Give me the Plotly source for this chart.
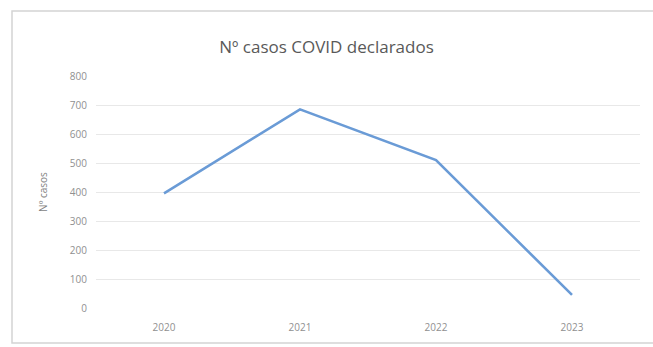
import plotly.graph_objects as go

# Declared COVID cases per year
years = ["2020", "2021", "2022", "2023"]
cases = [395, 685, 510, 45]
y_ticks = [0, 100, 200, 300, 400, 500, 600, 700, 800]

fig = go.Figure(
    go.Scatter(
        x=years,
        y=cases,
        mode="lines",
        line=dict(color="#6a9bd6", width=2.6),
        hoverinfo="x+y",
    )
)

font_family = "Open Sans, Lato, sans-serif"

fig.update_layout(
    width=653,
    height=347,
    margin=dict(l=96, r=13, t=76, b=39),
    paper_bgcolor="white",
    plot_bgcolor="white",
    showlegend=False,
    title=dict(
        text="Nº casos COVID declarados",
        x=0.5,
        xanchor="center",
        y=1 - 47 / 347,
        yanchor="middle",
        font=dict(family=font_family, size=17, color="#595959"),
    ),
    xaxis=dict(
        type="category",
        range=[-0.5, len(years) - 0.5],
        showgrid=False,
        zeroline=False,
        showline=False,
        ticks="",
        ticklabelstandoff=12,
        tickfont=dict(family=font_family, size=10, color="#909090"),
    ),
    yaxis=dict(
        range=[0, 800],
        tickvals=y_ticks,
        showgrid=True,
        gridcolor="#e8e8e8",
        gridwidth=1,
        zeroline=False,
        showline=False,
        ticks="",
        ticklabelstandoff=8,
        tickfont=dict(family=font_family, size=10, color="#909090"),
        title=dict(
            text="Nº casos",
            standoff=20,
            font=dict(family=font_family, size=10, color="#7f7f7f"),
        ),
    ),
    shapes=[
        # chart frame (right edge runs past the page)
        dict(
            type="rect",
            xref="paper",
            yref="paper",
            x0=(12 - 96) / 544,
            x1=(660 - 96) / 544,
            y0=(308 - 343) / 232,
            y1=(308 - 11) / 232,
            line=dict(color="#d4d4d4", width=1.5),
            layer="below",
        )
    ],
)

fig.write_html("out.html")
